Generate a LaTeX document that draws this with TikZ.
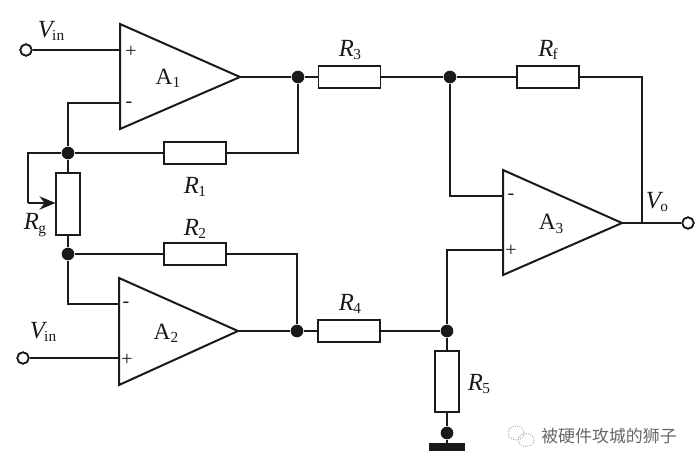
\documentclass[tikz,border=0pt]{standalone}
\usepackage{fontspec}
\setmainfont{Liberation Serif}
\newfontfamily\cjkfont{Noto Sans CJK SC}
\usetikzlibrary{arrows.meta}
\definecolor{ink}{HTML}{1A1A1A}
\newcommand{\lab}[2]{{\fontsize{18.5}{19}\selectfont\itshape #1}\kern-0.5pt\raisebox{-2.5pt}{\fontsize{11.5}{12}\selectfont #2}}
\newcommand{\amp}[2]{{\fontsize{17.5}{18}\selectfont #1}\raisebox{-2.5pt}{\fontsize{11.5}{12}\selectfont #2}}
\tikzset{
  wire/.style={draw=ink,line width=1.3pt,line join=miter},
  opamp/.style={draw=ink,line width=1.5pt,line join=miter,fill=white},
  hres/.style={draw=ink,line width=1.3pt,fill=white,rectangle,minimum width=46.5pt,minimum height=16.5pt,inner sep=0pt},
  vres/.style={draw=ink,line width=1.3pt,fill=white,rectangle,minimum width=17.5pt,minimum height=46pt,inner sep=0pt},
  junction/.style={circle,fill=ink,draw=none,minimum size=9.5pt,inner sep=0pt},
  terminal/.style={circle,draw=ink,line width=1.3pt,fill=white,minimum size=8.5pt,inner sep=0pt},
  txt/.style={inner sep=0pt,text=ink},
  sign/.style={inner sep=0pt,text=ink,font=\fontsize{15}{15}\selectfont},
}
\begin{document}
\begin{tikzpicture}[x=0.75pt,y=-0.75pt]
\useasboundingbox (0,0) rectangle (699,467);
% op-amp corners
\coordinate (A1t) at (120,24); \coordinate (A1b) at (120,129); \coordinate (A1o) at (240,77);
\coordinate (A1p) at (120,50); \coordinate (A1m) at (120,103);
\coordinate (A2t) at (119,278); \coordinate (A2b) at (119,385); \coordinate (A2o) at (238,331);
\coordinate (A2m) at (119,304); \coordinate (A2p) at (119,358);
\coordinate (A3t) at (503,170); \coordinate (A3b) at (503,275); \coordinate (A3o) at (622,223);
\coordinate (A3m) at (503,196); \coordinate (A3p) at (503,250);
% junctions
\node[junction] (j1) at (298,77) {};
\node[junction] (j2) at (68,153) {};
\node[junction] (j3) at (68,254) {};
\node[junction] (j4) at (297,331) {};
\node[junction] (j5) at (450,77) {};
\node[junction] (j6) at (447,331) {};
\node[junction] (j7) at (447,433) {};
% terminals
\node[terminal] (t1) at (26,50) {};
\node[terminal] (t2) at (23,358) {};
\node[terminal] (t3) at (688,223) {};
% resistors
\node[hres] (R1) at (195,153) {};
\node[hres] (R2) at (195,254) {};
\node[hres] (R3) at (349.5,77) {};
\node[hres] (R4) at (349,331) {};
\node[hres] (Rf) at (548,77) {};
\node[vres] (Rg) at (68,204) {};
\node[vres] (R5) at (447,381.5) {};
\node[fill=ink,minimum width=27.5pt,minimum height=6pt,inner sep=0pt] (gnd) at (447,447) {};
\coordinate (wip) at (28,153);
\coordinate (wipb) at (28,203);
\coordinate (fbr) at (642,77);
\coordinate (a3out) at (642,223);
\draw[wire] (t1) -- (A1p);
\draw[wire] (t2) -- (A2p);
\draw[wire] (A1o) -- (j1);
\draw[wire] (A2o) -- (j4);
\draw[wire] (j1) -- (R3) -- (j5) -- (Rf);
\draw[wire] (Rf) -- (fbr) -- (a3out);
\draw[wire] (A3o) -- (t3);
\draw[wire] (j1) |- (R1);
\draw[wire] (R1) -- (j2);
\draw[wire] (j4) |- (R2);
\draw[wire] (R2) -- (j3);
\draw[wire] (A1m) -| (j2);
\draw[wire] (A2m) -| (j3);
\draw[wire] (j2) -- (Rg);
\draw[wire] (Rg) -- (j3);
\draw[wire] (j4) -- (R4);
\draw[wire] (R4) -- (j6);
\draw[wire] (j5) |- (A3m);
\draw[wire] (A3p) -| (j6);
\draw[wire] (j6) -- (R5);
\draw[wire] (R5) -- (j7);
\draw[wire] (j7) -- (gnd);
\draw[wire] (j2) -- (wip) -- (wipb);
\draw[wire,-{Stealth[length=12pt,width=10pt]}] (wipb) -- (Rg.west |- wipb);
% redraw boxes and terminals above wires
\node[hres] at (R1) {}; \node[hres] at (R2) {}; \node[hres] at (R3) {}; \node[hres] at (R4) {}; \node[hres] at (Rf) {};
\node[vres] at (Rg) {}; \node[vres] at (R5) {};
\node[terminal] at (t1) {}; \node[terminal] at (t2) {}; \node[terminal] at (t3) {};
\draw[opamp] (A1t) -- (A1o) -- (A1b) -- cycle;
\draw[opamp] (A2t) -- (A2o) -- (A2b) -- cycle;
\draw[opamp] (A3t) -- (A3o) -- (A3b) -- cycle;
% signs
\node[sign] (s1) at (131,52) {+};
\node[sign] (s2) at (129,105) {-};
\node[sign] (s3) at (126,305) {-};
\node[sign] (s4) at (127,360) {+};
\node[sign] (s5) at (511,197) {-};
\node[sign] (s6) at (511,251) {+};
% labels
\node[txt] (l1) at (168,78) {\amp{A}{1}};
\node[txt] (l2) at (166,333) {\amp{A}{2}};
\node[txt] (l3) at (551,224) {\amp{A}{3}};
\node[txt] (vin1) at (51,31) {\lab{V}{in}};
\node[txt] (vin2) at (43,332) {\lab{V}{in}};
\node[txt] (vo) at (657,202) {\lab{V}{o}};
\node[txt] (lr1) at (195,187) {\lab{R}{1}};
\node[txt] (lr2) at (195,229) {\lab{R}{2}};
\node[txt] (lr3) at (350,50) {\lab{R}{3}};
\node[txt] (lr4) at (350,304) {\lab{R}{4}};
\node[txt] (lrf) at (548,50) {\lab{R}{f}};
\node[txt] (lrg) at (35,225) {\lab{R}{g}};
\node[txt] (lr5) at (479,384) {\lab{R}{5}};
% watermark
\draw[gray!70,densely dotted,line width=0.7pt] (516,433) ellipse (8 and 7);
\draw[gray!70,densely dotted,line width=0.7pt] (526,440) ellipse (8 and 6.5);
\node[inner sep=0pt,text=black!60,font=\cjkfont\fontsize{12.7}{13}\selectfont] (wm) at (609,436) {被硬件攻城的狮子};
\end{tikzpicture}
\end{document}
